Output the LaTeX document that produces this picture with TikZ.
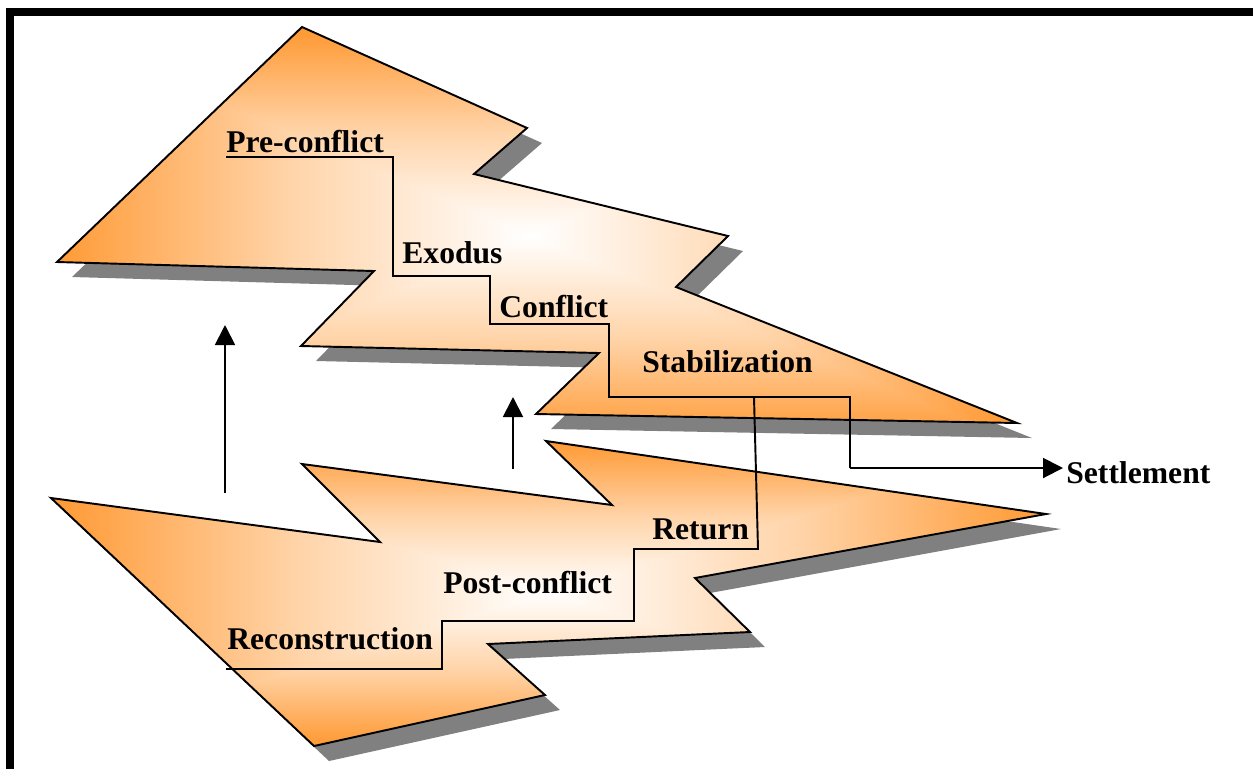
\documentclass[tikz,border=0pt]{standalone}
\usepackage{fontspec}
\setmainfont{Liberation Serif}
\usetikzlibrary{arrows.meta}
\definecolor{orng}{RGB}{255,153,51}
\definecolor{shadowgray}{RGB}{128,128,128}

% orange at both ends, white in the middle (25bp..75bp is fitted to the path)
\pgfdeclarehorizontalshading{boltramp}{100bp}{%
  color(0bp)=(orng); color(25bp)=(orng); color(37.5bp)=(orng!42!white);
  color(50bp)=(white);
  color(62.5bp)=(orng!42!white); color(75bp)=(orng); color(100bp)=(orng)}

% Fill a bolt shape with a centre-to-edge rectangular gradient:
% #1 shape style, #2/#3 centre, #4/#5 half extents
\newcommand\boltfill[5]{%
  \begin{scope}
    \clip[#1];
    \fill[orng] (#2-#4-600,#3-#5-600) rectangle (#2+#4+600,#3+#5+600);
    \shade[shading=boltramp]
      (#2-#4,#3-#5-600) rectangle (#2+#4,#3+#5+600);
    \begin{scope}[blend mode=darken]
      \shade[shading=boltramp, shading angle=90]
        (#2-#4-600,#3-#5) rectangle (#2+#4+600,#3+#5);
    \end{scope}
    \fill[orng] (#2-#4-600,#3-#5-600) rectangle (#2+#4+600,#3-#5);
    \fill[orng] (#2-#4-600,#3+#5) rectangle (#2+#4+600,#3+#5+600);
  \end{scope}
  \draw[outline, #1];
}

\begin{document}
\begin{tikzpicture}[x=0.02cm, y=-0.02cm,
  outline/.style={draw=black, line width=1.1pt, line join=miter},
  stair/.style={draw=black, line width=1.1pt},
  tipped/.style={draw=black, line width=1.1pt, -{Triangle[length=0.4cm, width=0.4cm]}},
  stagetext/.style={font=\fontsize{18}{22}\selectfont\bfseries, inner sep=0pt, anchor=base west},
  upperbolt/.style={insert path={(302,27) -- (527,128) -- (474,174) -- (728,236) -- (676,287)
      -- (1017,423) -- (536,414) -- (599,353) -- (301,346) -- (374,271) -- (57,262) -- cycle}},
  lowerbolt/.style={insert path={(51,498) -- (380,542) -- (302,464) -- (612,505) -- (546,441)
      -- (1046,514) -- (695,578) -- (750,632) -- (488,644) -- (545,695) -- (314,746) -- cycle}}
]
\useasboundingbox (0,0) rectangle (1253,769);

% drop shadows
\begin{scope}[shift={(15,15)}]
  \fill[shadowgray, upperbolt];
  \fill[shadowgray, lowerbolt];
\end{scope}

% the two shaded bolts
\boltfill{upperbolt}{530}{235}{480}{205}
\boltfill{lowerbolt}{548}{593}{497}{152}

% stage labels
\node[stagetext] (pre)   at (226,152) {Pre-conflict};
\node[stagetext] (exo)   at (402,263) {Exodus};
\node[stagetext] (conf)  at (499,317) {Conflict};
\node[stagetext] (stab)  at (642,372) {Stabilization};
\node[stagetext] (sett)  at (1066,483) {Settlement};
\node[stagetext] (ret)   at (652,539) {Return};
\node[stagetext] (post)  at (443,593) {Post-conflict};
\node[stagetext] (recon) at (227,649) {Reconstruction};

% staircase corners
\coordinate (s0) at (226,157);
\coordinate (s1) at (393,157);
\coordinate (s2) at (393,276);
\coordinate (s3) at (490,276);
\coordinate (s4) at (490,324);
\coordinate (s5) at (609,324);
\coordinate (s6) at (609,397);
\coordinate (s7) at (850,397);
\coordinate (s8) at (850,468);
\coordinate (s9) at (1063,468);

\coordinate (r0) at (754,397);
\coordinate (r1) at (758,549);
\coordinate (r2) at (634,549);
\coordinate (r3) at (634,621);
\coordinate (r4) at (442,621);
\coordinate (r5) at (442,669);
\coordinate (r6) at (226,669);

% descending staircase towards settlement
\draw[stair] (s0) -- (s1) -- (s2) -- (s3) -- (s4) -- (s5) -- (s6) -- (s7) -- (s8);
\draw[tipped] (s8) -- (s9);

% staircase back down through return
\draw[stair] (r0) -- (r1) -- (r2) -- (r3) -- (r4) -- (r5) -- (r6);

% upward arrows between the bolts
\coordinate (a1s) at (225,493);
\coordinate (a1e) at (225,325);
\coordinate (a2s) at (513,469);
\coordinate (a2e) at (513,397);
\draw[tipped] (a1s) -- (a1e);
\draw[tipped] (a2s) -- (a2e);

% frame
\draw[line width=0.16cm, line cap=butt, line join=miter] (10,769) -- (10,12) -- (1253,12);
\end{tikzpicture}
\end{document}
